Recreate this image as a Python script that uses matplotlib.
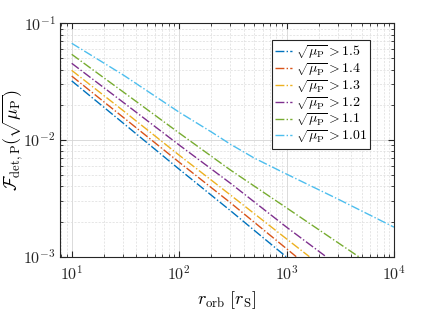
import numpy as np
import matplotlib
matplotlib.use("Agg")
import matplotlib.pyplot as plt

plt.rcParams['mathtext.fontset'] = 'cm'
plt.rcParams['font.family'] = ['DejaVu Serif']

labels = [r'$\sqrt{\mu_{\rm P}} > 1.5$', r'$\sqrt{\mu_{\rm P}} > 1.4$', r'$\sqrt{\mu_{\rm P}} > 1.3$',
          r'$\sqrt{\mu_{\rm P}} > 1.2$', r'$\sqrt{\mu_{\rm P}} > 1.1$', r'$\sqrt{\mu_{\rm P}} > 1.01$']
colors = ['#0072BD', '#D95319', '#EDB120', '#7E2F8E', '#77AC30', '#4DBEEE']

# r_orb values and F values
r_15 = [10, 30, 100, 300, 990]
f_15 = [0.0321, 0.0140, 0.00562, 0.00248, 0.0010]
r_14 = [10, 30, 100, 300, 1000, 1230]
f_14 = [0.0353, 0.0157, 0.00645, 0.00290, 0.00117, 0.0010]
r_13 = [10, 30, 100, 300, 1000, 1630]
f_13 = [0.0395, 0.0179, 0.00741, 0.00338, 0.00142, 0.0010]
r_12 = [10, 30, 100, 300, 1000, 2330]
f_12 = [0.0454, 0.0211, 0.00906, 0.00426, 0.00179, 0.0010]
r_11 = [10, 30, 100, 300, 1000, 3000, 4690]
f_11 = [0.0542, 0.0259, 0.01148, 0.00553, 0.00262, 0.00132, 0.0010]
r_101 = [10, 30, 100, 200, 300, 500, 1000, 3000, 10000]
f_101 = [0.0674, 0.0362, 0.0173, 0.0117, 0.0092, 0.0070, 0.0051, 0.00312, 0.00179]

series = [(r_15, f_15), (r_14, f_14), (r_13, f_13), (r_12, f_12), (r_11, f_11), (r_101, f_101)]

fig = plt.figure(figsize=(4.36, 3.13), dpi=100)
ax = fig.add_axes([0.1376, 0.180, 0.766, 0.7456])

for (r, f), c, lab in zip(series, colors, labels):
    ax.plot(r, f, linestyle='-.', color=c, linewidth=1.0, label=lab)

ax.set_xscale('log')
ax.set_yscale('log')
ax.set_xlim(7.78, 1e4)
ax.set_ylim(1e-3, 1e-1)

ax.grid(True, which='major', color='#d4d4d4', linewidth=0.6, linestyle='-')
ax.grid(True, which='minor', color='#dcdcdc', linewidth=0.5, linestyle=(0, (3, 2)))
ax.set_axisbelow(True)

ax.tick_params(which='both', direction='in', top=True, right=True, colors='#262626')
ax.tick_params(which='major', length=4, labelsize=11.5)
ax.tick_params(axis='x', which='major', pad=6)
ax.tick_params(axis='y', which='major', pad=3)
ax.tick_params(which='minor', length=2)
for s in ax.spines.values():
    s.set_color('#262626')
    s.set_linewidth(0.8)

ax.set_xticks([10, 100, 1000, 10000])
ax.set_xticklabels([r'$10^{1}$', r'$10^{2}$', r'$10^{3}$', r'$10^{4}$'])
ax.set_yticks([1e-3, 1e-2, 1e-1])
ax.set_yticklabels([r'$10^{-3}$', r'$10^{-2}$', r'$10^{-1}$'])

ax.set_xlabel(r'$r_{\rm orb}\ [r_{\rm S}]$', fontsize=13, labelpad=4)
ax.set_ylabel(r'$\mathcal{F}_{\rm det,P}(\sqrt{\mu_{\rm P}})$', fontsize=13)
ax.yaxis.set_label_coords(-0.105, 0.5)

leg = ax.legend(loc='upper right', bbox_to_anchor=(0.928, 0.927), borderaxespad=0,
                fontsize=10, handlelength=1.2, handletextpad=0.25, labelspacing=0.0,
                fancybox=False, framealpha=1, edgecolor='#262626', borderpad=0.25)
leg.get_frame().set_linewidth(0.8)

fig.savefig('out.png', dpi=100)
